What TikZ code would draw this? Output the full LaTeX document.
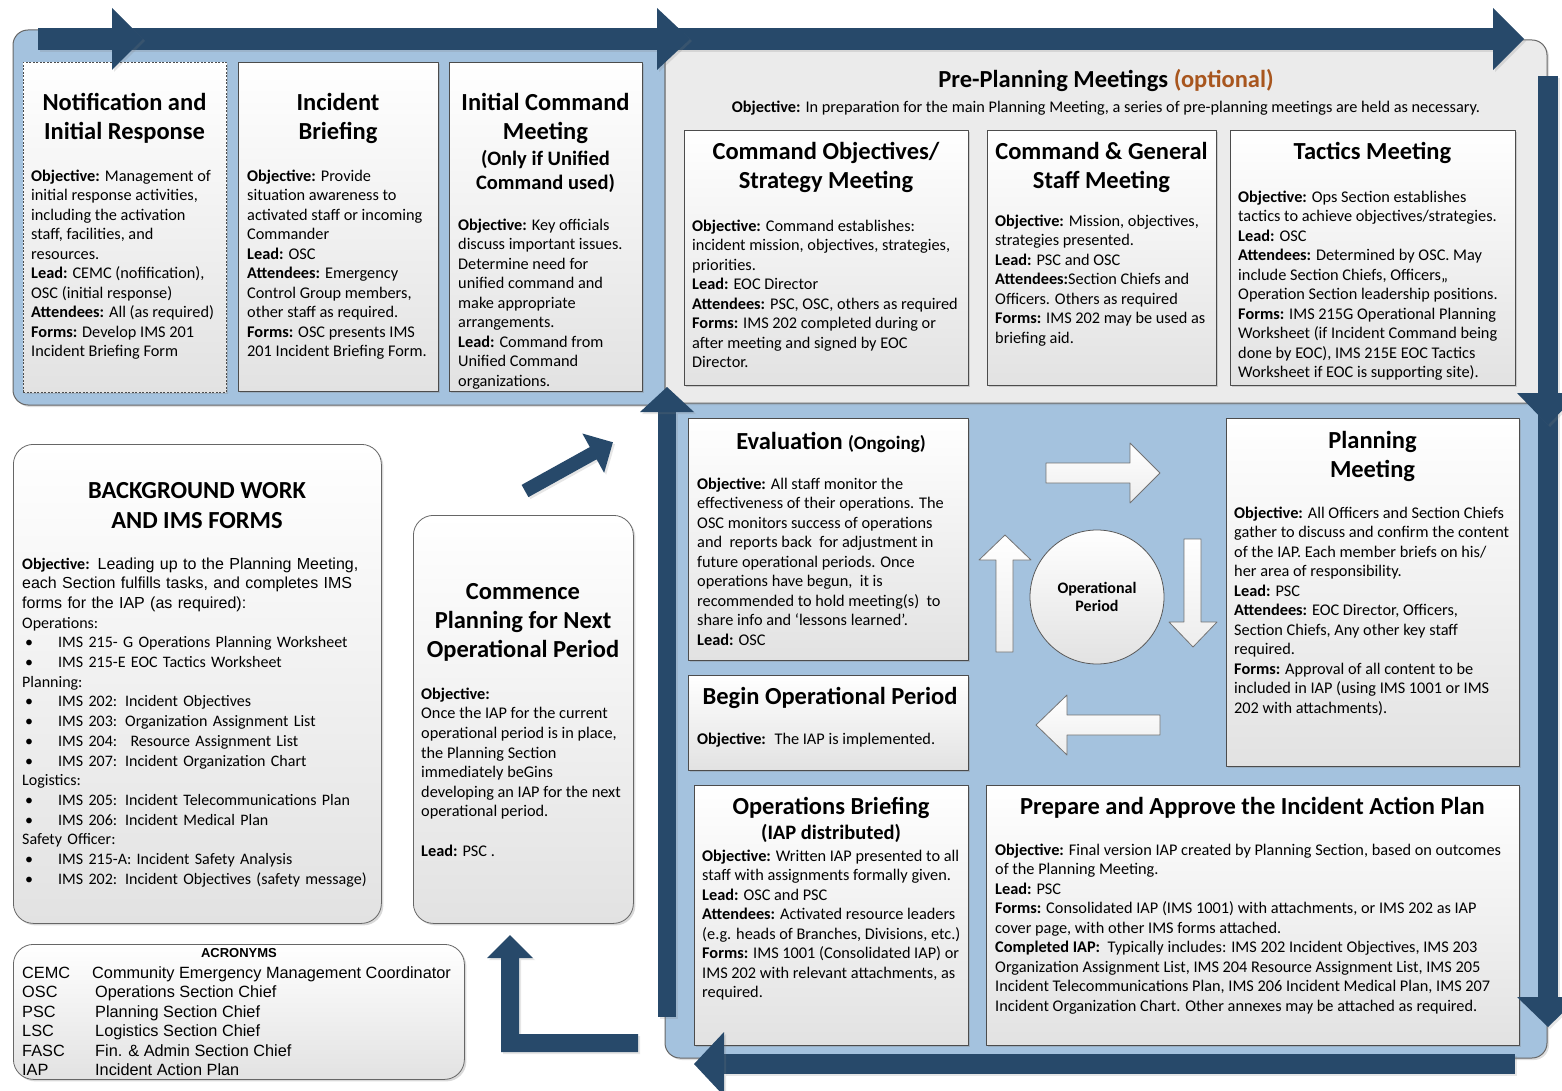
\documentclass[tikz,border=0pt]{standalone}
\usepackage{fontspec}
\setmainfont{Carlito}
\newfontfamily\arialfont{Liberation Sans}
\usetikzlibrary{shadows}

\definecolor{navy}{RGB}{39,73,106}
\definecolor{panelblue}{RGB}{164,194,222}
\definecolor{panelgray}{RGB}{235,235,235}
\definecolor{boxgray}{RGB}{226,226,226}
\definecolor{optorange}{RGB}{168,86,30}

\begin{document}
\begin{tikzpicture}[x=1pt, y=-1pt, line join=round,
  panel/.style={draw=black!60, line width=1pt, rounded corners=15pt,
    drop shadow={opacity=.25, shadow xshift=2pt, shadow yshift=-2pt}},
  box/.style={draw=black!70, line width=.8pt, top color=white, bottom color=boxgray,
    inner sep=0pt, anchor=north west,
    drop shadow={opacity=.3, shadow xshift=2pt, shadow yshift=-2pt}},
  roundbox/.style={box, draw=black!60, rounded corners=20pt},
  ttl/.style={font=\fontsize{24.5}{29}\selectfont\bfseries, align=center, inner sep=0pt, anchor=base},
  subttl/.style={font=\fontsize{20.5}{24}\selectfont\bfseries, align=center, inner sep=0pt, anchor=base},
  txt/.style={font=\fontsize{16.3}{19.5}\selectfont, align=left, inner sep=0pt, anchor=base west},
  bigarrow/.style={fill=navy, drop shadow={opacity=.2, shadow xshift=2pt, shadow yshift=-2pt}},
  whitearrow/.style={draw=black!55, line width=.8pt, top color=white, bottom color=black!7}]

  %% ════ 底板 ════
  \draw[panel, fill=panelblue] (13,30) rectangle (665,405);
  \draw[panel, fill=panelblue] (665,395) rectangle (1547,1058);
  \draw[panel, fill=panelgray] (665,40) rectangle (1547,403);

  %% ════ 左上三个框 ════
  % 多行文字的 base 锚点在最后一行，坐标都写最后一行的基线
  \node[box, dash pattern=on 2pt off 1.5pt, minimum width=203pt, minimum height=330pt] (notif) at (23,62) {};
  \node[ttl] (notif-t) at (124.5,140) {Notification and\\Initial Response};
  \node[txt] (notif-b) at (31,356.5) {\textbf{Objective:} Management of\\initial response activities,\\including the activation\\staff, facilities, and\\resources.\\\textbf{Lead:} CEMC (nofification),\\OSC (initial response)\\\textbf{Attendees:} All (as required)\\\textbf{Forms:} Develop IMS 201\\Incident Briefing Form};

  \node[box, minimum width=200pt, minimum height=329pt] (brief) at (238,62) {};
  \node[ttl] (brief-t) at (338,140) {Incident\\Briefing};
  \node[txt] (brief-b) at (247,356.5) {\textbf{Objective:} Provide\\situation awareness to\\activated staff or incoming\\Commander\\\textbf{Lead:} OSC\\\textbf{Attendees:} Emergency\\Control Group members,\\other staff as required.\\\textbf{Forms:} OSC presents IMS\\201 Incident Briefing Form.};

  \node[box, minimum width=193pt, minimum height=329pt] (initcmd) at (449,62) {};
  \node[ttl] (initcmd-t) at (545.5,140) {Initial Command\\Meeting};
  \node[subttl] (initcmd-s) at (545.5,190) {(Only if Unified\\Command used)};
  \node[txt] (initcmd-b) at (458,386) {\textbf{Objective:} Key officials\\discuss important issues.\\Determine need for\\unified command and\\make appropriate\\arrangements.\\\textbf{Lead:} Command from\\Unified Command\\organizations.};

  %% ════ 预备会议 ════
  \node[ttl] (prep-t) at (1106,88) {Pre-Planning Meetings \textcolor{optorange}{(optional)}};
  \node[font=\fontsize{16.3}{19.5}\selectfont, inner sep=0pt, anchor=base] (prep-o) at (1106,113)
    {\textbf{Objective:} In preparation for the main Planning Meeting, a series of pre-planning meetings are held as necessary.};

  \node[box, minimum width=284pt, minimum height=255pt] (cmdobj) at (684,130) {};
  \node[ttl] (cmdobj-t) at (826,189) {Command Objectives/\\Strategy Meeting};
  \node[txt] (cmdobj-b) at (692,367.5) {\textbf{Objective:} Command establishes:\\incident mission, objectives, strategies,\\priorities.\\\textbf{Lead:} EOC Director\\\textbf{Attendees:} PSC, OSC, others as required\\\textbf{Forms:} IMS 202 completed during or\\after meeting and signed by EOC\\Director.};

  \node[box, minimum width=229pt, minimum height=255pt] (cmdgen) at (987,130) {};
  \node[ttl] (cmdgen-t) at (1101.5,189) {Command \& General\\Staff Meeting};
  \node[txt] (cmdgen-b) at (995,343) {\textbf{Objective:} Mission, objectives,\\strategies presented.\\\textbf{Lead:} PSC and OSC\\\textbf{Attendees:}Section Chiefs and\\Officers. Others as required\\\textbf{Forms:} IMS 202 may be used as\\briefing aid.};

  \node[box, minimum width=285pt, minimum height=255pt] (tactics) at (1230,130) {};
  \node[ttl] (tactics-t) at (1372.5,160) {Tactics Meeting};
  \node[txt] (tactics-b) at (1238,377.5) {\textbf{Objective:} Ops Section establishes\\tactics to achieve objectives/strategies.\\\textbf{Lead:} OSC\\\textbf{Attendees:} Determined by OSC. May\\include Section Chiefs, Officers,,\\Operation Section leadership positions.\\\textbf{Forms:} IMS 215G Operational Planning\\Worksheet (if Incident Command being\\done by EOC), IMS 215E EOC Tactics\\Worksheet if EOC is supporting site).};

  %% ════ 循环部分 ════
  \node[box, minimum width=280pt, minimum height=242pt] (eval) at (688,418) {};
  \node[ttl] (eval-t) at (831,449) {Evaluation {\fontsize{19}{22}\selectfont(Ongoing)}};
  \node[txt] (eval-b) at (697,645) {\textbf{Objective:} All staff monitor the\\effectiveness of their operations. The\\OSC monitors success of operations\\and \ reports back \ for adjustment in\\future operational periods. Once\\operations have begun, \ it is\\recommended to hold meeting(s) \ to\\share info and ‘lessons learned’.\\\textbf{Lead:} OSC};

  \node[box, minimum width=280pt, minimum height=95pt] (begin) at (688,675) {};
  \node[ttl] (begin-t) at (830,704) {Begin Operational Period};
  \node[txt] (begin-b) at (697,744) {\textbf{Objective:} \ The IAP is implemented.};

  \node[box, minimum width=293pt, minimum height=348pt] (planmtg) at (1226,418) {};
  \node[ttl] (planmtg-t) at (1372.5,477) {Planning\\Meeting};
  \node[txt] (planmtg-b) at (1234,713) {\textbf{Objective:} All Officers and Section Chiefs\\gather to discuss and confirm the content\\of the IAP. Each member briefs on his/\\her area of responsibility.\\\textbf{Lead:} PSC\\\textbf{Attendees:} EOC Director, Officers,\\Section Chiefs, Any other key staff\\required.\\\textbf{Forms:} Approval of all content to be\\included in IAP (using IMS 1001 or IMS\\202 with attachments).};

  \node[box, minimum width=274pt, minimum height=260pt] (opsbrief) at (694,785) {};
  \node[ttl] (opsbrief-t) at (831,814) {Operations Briefing};
  \node[subttl] (opsbrief-s) at (831,839) {(IAP distributed)};
  \node[txt] (opsbrief-b) at (702,997.5) {\textbf{Objective:} Written IAP presented to all\\staff with assignments formally given.\\\textbf{Lead:} OSC and PSC\\\textbf{Attendees:} Activated resource leaders\\(e.g. heads of Branches, Divisions, etc.)\\\textbf{Forms:} IMS 1001 (Consolidated IAP) or\\IMS 202 with relevant attachments, as\\required.};

  \node[box, minimum width=533pt, minimum height=260pt] (iap) at (986,785) {};
  \node[ttl] (iap-t) at (1252.5,814) {Prepare and Approve the Incident Action Plan};
  \node[txt] (iap-b) at (995,1011) {\textbf{Objective:} Final version IAP created by Planning Section, based on outcomes\\of the Planning Meeting.\\\textbf{Lead:} PSC\\\textbf{Forms:} Consolidated IAP (IMS 1001) with attachments, or IMS 202 as IAP\\cover page, with other IMS forms attached.\\\textbf{Completed IAP:} \ Typically includes: IMS 202 Incident Objectives, IMS 203\\Organization Assignment List, IMS 204 Resource Assignment List, IMS 205\\Incident Telecommunications Plan, IMS 206 Incident Medical Plan, IMS 207\\Incident Organization Chart. Other annexes may be attached as required.};

  % 中间的圆和四个白箭头
  \node[circle, draw=black!65, line width=.8pt, top color=white, bottom color=boxgray, minimum size=134pt,
    font=\fontsize{16}{18.5}\selectfont\bfseries, align=center] (opperiod) at (1097,597) {Operational\\Period};
  \draw[whitearrow] (1046,463) -- (1130,463) -- (1130,443) -- (1160,473) -- (1130,503) -- (1130,483) -- (1046,483) -- cycle;
  \draw[whitearrow] (1184,539) -- (1201,539) -- (1201,622) -- (1217,622) -- (1193,647) -- (1169,622) -- (1184,622) -- cycle;
  \draw[whitearrow] (1160,715) -- (1067,715) -- (1067,695) -- (1036,725) -- (1067,755) -- (1067,735) -- (1160,735) -- cycle;
  \draw[whitearrow] (996,652) -- (996,560) -- (979,560) -- (1005,535) -- (1031,560) -- (1013,560) -- (1013,652) -- cycle;

  %% ════ 左下 ════
  \node[roundbox, minimum width=368pt, minimum height=479pt] (bg) at (13,444) {};
  \node[ttl, font=\fontsize{24.5}{30}\selectfont\bfseries] (bg-t) at (197,528) {BACKGROUND WORK\\AND IMS FORMS};
  % 带 text width 的节点 base 在第一行
  \node[txt, text width=360pt, font=\fontsize{16}{19.7}\selectfont] (bg-b) at (22,569)
    {\textbf{Objective:} {\arialfont Leading up to the Planning Meeting,\\each Section fulfills tasks, and completes IMS\\forms for the IAP (as required):}\\
     Operations:\\
     \makebox[36pt][l]{\hspace{3pt}•}IMS 215- G Operations Planning Worksheet\\
     \makebox[36pt][l]{\hspace{3pt}•}IMS 215-E EOC Tactics Worksheet\\
     Planning:\\
     \makebox[36pt][l]{\hspace{3pt}•}IMS 202: Incident Objectives\\
     \makebox[36pt][l]{\hspace{3pt}•}IMS 203: Organization Assignment List\\
     \makebox[36pt][l]{\hspace{3pt}•}IMS 204: \ Resource Assignment List\\
     \makebox[36pt][l]{\hspace{3pt}•}IMS 207: Incident Organization Chart\\
     Logistics:\\
     \makebox[36pt][l]{\hspace{3pt}•}IMS 205: Incident Telecommunications Plan\\
     \makebox[36pt][l]{\hspace{3pt}•}IMS 206: Incident Medical Plan\\
     Safety Officer:\\
     \makebox[36pt][l]{\hspace{3pt}•}IMS 215-A: Incident Safety Analysis\\
     \makebox[36pt][l]{\hspace{3pt}•}IMS 202: Incident Objectives (safety message)};

  \node[roundbox, minimum width=220pt, minimum height=408pt] (commence) at (413,515) {};
  \node[ttl] (commence-t) at (523,657) {Commence\\Planning for Next\\Operational Period};
  \node[txt, font=\fontsize{16.3}{19.6}\selectfont] (commence-b) at (421,856) {\textbf{Objective:}\\Once the IAP for the current\\operational period is in place,\\the Planning Section\\immediately beGins\\developing an IAP for the next\\operational period.\\[19.6pt]\textbf{Lead:} PSC .};

  \node[roundbox, minimum width=451pt, minimum height=135pt] (acro) at (13,944) {};
  \node[font=\arialfont\fontsize{13}{16}\selectfont\bfseries, inner sep=0pt, anchor=base] (acro-t) at (239,957) {ACRONYMS};
  \node[txt, font=\arialfont\fontsize{16.3}{19.5}\selectfont] (acro-b) at (22,1075.5)
    {\makebox[70pt][l]{CEMC}Community Emergency Management Coordinator\\\makebox[73pt][l]{OSC}Operations Section Chief\\\makebox[73pt][l]{PSC}Planning Section Chief\\\makebox[73pt][l]{LSC}Logistics Section Chief\\\makebox[73pt][l]{FASC}Fin. \& Admin Section Chief\\\makebox[73pt][l]{IAP}Incident Action Plan};

  %% ════ 深蓝大箭头（最上层）════
  \fill[bigarrow] (38,28) rectangle (1493,50);
  \fill[bigarrow] (112,8) -- (143,39) -- (112,70) -- cycle;
  \fill[bigarrow] (657,8) -- (690,39) -- (657,70) -- cycle;
  \fill[bigarrow] (1493,8) -- (1524,39) -- (1493,70) -- cycle;
  \fill[bigarrow] (1538,76) rectangle (1558,997);
  \fill[bigarrow] (1517,393) -- (1548,425) -- (1579,393) -- cycle;
  \fill[bigarrow] (1517,997) -- (1548,1027) -- (1579,997) -- cycle;
  \fill[bigarrow] (724,1054) rectangle (1515,1074);
  \fill[bigarrow] (724,1032) -- (694,1064) -- (724,1096) -- cycle;
  \fill[bigarrow] (658,412) rectangle (676,1017);
  \fill[bigarrow] (640,412) -- (667,387) -- (694,412) -- cycle;
  % L 形回转箭头
  \fill[bigarrow] (501,958) -- (487,958) -- (510,935) -- (533,958) -- (519,958) -- (519,1034)
    -- (638,1034) -- (638,1052) -- (501,1052) -- cycle;
  % 斜箭头
  \begin{scope}[shift={(525,491)}, rotate=29]
    \fill[bigarrow] (0,-7) -- (78,-7) -- (78,-22.5) -- (100.5,0) -- (78,22.5) -- (78,7) -- (0,7) -- cycle;
  \end{scope}

  % 钉死画布
  \pgfresetboundingbox
  \path[use as bounding box] (0,0) rectangle (1562,1091);
\end{tikzpicture}
\end{document}
